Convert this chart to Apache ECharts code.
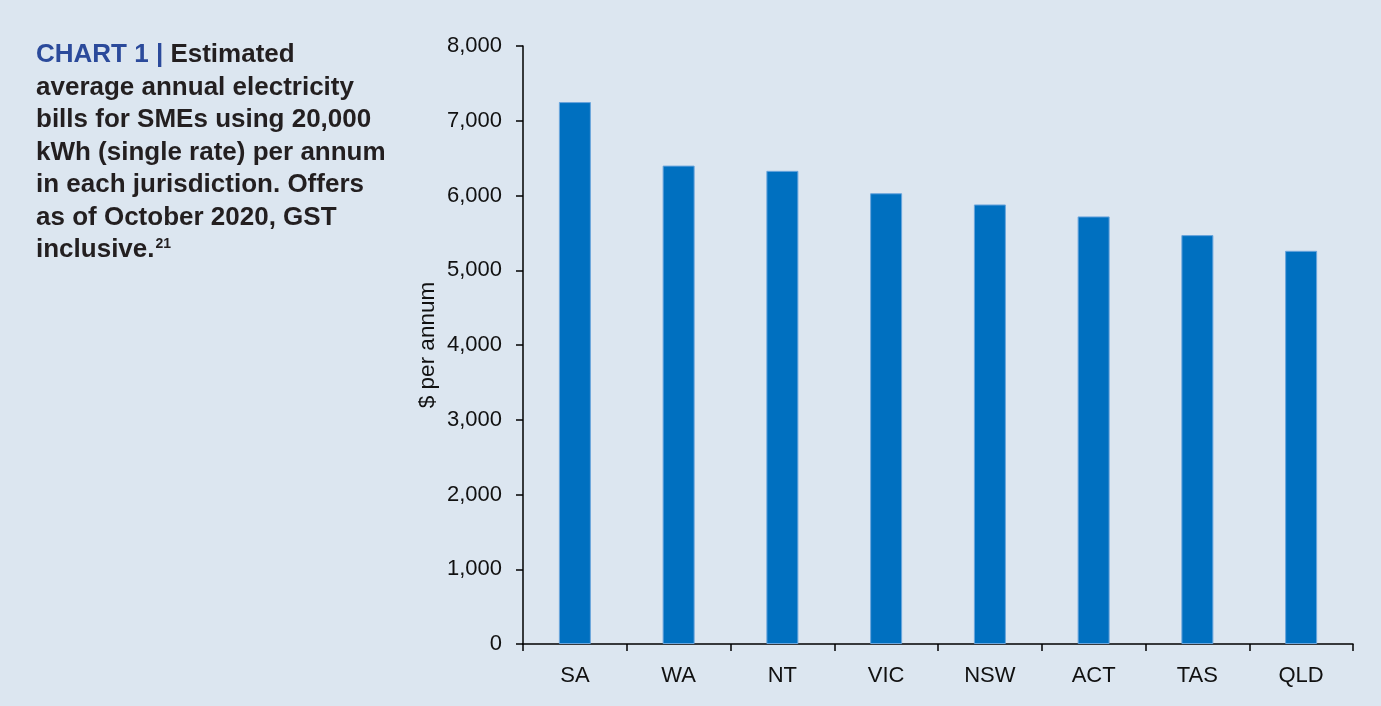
<!DOCTYPE html>
<html lang="en">
<head>
    <meta charset="UTF-8">
    <title>Chart 1</title>
    <style>
        html, body { margin: 0; padding: 0; background: #dce6f0; }
        #main { width: 1381px; height: 706px; }
    </style>
</head>
<body>
<div id="main"></div>
<script src="https://cdn.jsdelivr.net/npm/echarts@6/dist/echarts.min.js"></script>
<script>
    var categories = ['SA', 'WA', 'NT', 'VIC', 'NSW', 'ACT', 'TAS', 'QLD'];
    var billValues = [7250, 6400, 6330, 6030, 5880, 5720, 5470, 5260];
    var yTicks = [0, 1000, 2000, 3000, 4000, 5000, 6000, 7000, 8000];

    var myChart = echarts.init(document.getElementById('main'));
    var font = '"Liberation Sans", Arial, Helvetica, sans-serif';

    var option = {
        animation: false,
        backgroundColor: '#dce6f0',
        title: {
            left: 36,
            top: 39,
            padding: 0,
            text: '{blue|CHART 1 | }{b|Estimated}\n' +
                  '{b|average annual electricity}\n' +
                  '{b|bills for SMEs using 20,000}\n' +
                  '{b|kWh (single rate) per annum}\n' +
                  '{b|in each jurisdiction. Offers}\n' +
                  '{b|as of October 2020, GST}\n' +
                  '{b|inclusive.}{sup|21}',
            textStyle: {
                fontFamily: font,
                rich: {
                    blue: { color: '#2b4a9b', fontSize: 26, fontWeight: 'bold', fontFamily: font, lineHeight: 32.5 },
                    b: { color: '#231f20', fontSize: 26, fontWeight: 'bold', fontFamily: font, lineHeight: 32.5 },
                    sup: { color: '#231f20', fontSize: 14, fontWeight: 'bold', fontFamily: font, verticalAlign: 'top', padding: [3, 0, 0, 1] }
                }
            }
        },
        grid: {
            left: 523,
            top: 46,
            right: 28,
            bottom: 62
        },
        xAxis: {
            type: 'category',
            data: categories,
            axisLine: { lineStyle: { color: '#000', width: 1.5 } },
            axisTick: { show: true, length: 7, lineStyle: { color: '#000', width: 1.5 } },
            axisLabel: { color: '#111', fontSize: 22, fontFamily: font, margin: 21 }
        },
        yAxis: {
            type: 'value',
            min: yTicks[0],
            max: yTicks[yTicks.length - 1],
            interval: 1000,
            name: '$ per annum',
            nameLocation: 'middle',
            nameGap: 84,
            nameMoveOverlap: false,
            nameTextStyle: { color: '#111', fontSize: 22.5, fontFamily: font },
            splitLine: { show: false },
            axisLine: { show: true, lineStyle: { color: '#000', width: 1.5 } },
            axisTick: { show: true, length: 7, lineStyle: { color: '#000', width: 1.5 } },
            axisLabel: {
                color: '#111', fontSize: 22, fontFamily: font, margin: 21,
                formatter: function (v) { return v.toLocaleString('en-US'); }
            }
        },
        series: [{
            type: 'bar',
            data: billValues,
            barWidth: 32,
            itemStyle: {
                color: '#0070c0',
                borderColor: '#6aa5dc',
                borderWidth: 1
            }
        }]
    };
    myChart.setOption(option);
</script>
</body>
</html>
